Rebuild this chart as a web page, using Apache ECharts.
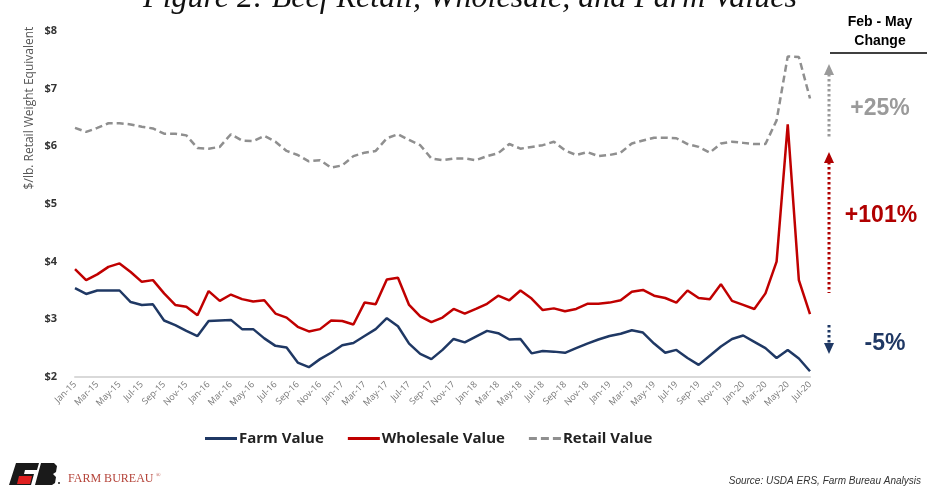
<!DOCTYPE html>
<html>
<head>
<meta charset="utf-8">
<style>html,body{margin:0;padding:0;background:#fff;}#c{width:927px;height:487px;}</style>
<script src="https://cdn.jsdelivr.net/npm/echarts@6/dist/echarts.min.js"></script>
</head>
<body>
<div id="c"></div>
<script>
var months = ["Jan-15","Feb-15","Mar-15","Apr-15","May-15","Jun-15","Jul-15","Aug-15","Sep-15","Oct-15","Nov-15","Dec-15",
"Jan-16","Feb-16","Mar-16","Apr-16","May-16","Jun-16","Jul-16","Aug-16","Sep-16","Oct-16","Nov-16","Dec-16",
"Jan-17","Feb-17","Mar-17","Apr-17","May-17","Jun-17","Jul-17","Aug-17","Sep-17","Oct-17","Nov-17","Dec-17",
"Jan-18","Feb-18","Mar-18","Apr-18","May-18","Jun-18","Jul-18","Aug-18","Sep-18","Oct-18","Nov-18","Dec-18",
"Jan-19","Feb-19","Mar-19","Apr-19","May-19","Jun-19","Jul-19","Aug-19","Sep-19","Oct-19","Nov-19","Dec-19",
"Jan-20","Feb-20","Mar-20","Apr-20","May-20","Jun-20","Jul-20"];

var farmValue = [3.54,3.44,3.50,3.50,3.50,3.30,3.25,3.26,2.98,2.90,
2.80,2.71,2.97,2.98,2.99,2.83,2.83,2.67,2.54,2.51,
2.25,2.17,2.31,2.42,2.55,2.59,2.71,2.83,3.02,2.88,
2.58,2.40,2.31,2.47,2.66,2.60,2.70,2.80,2.76,2.65,
2.66,2.41,2.45,2.44,2.42,2.50,2.58,2.65,2.71,2.75,
2.81,2.77,2.58,2.42,2.47,2.33,2.21,2.37,2.53,2.66,
2.72,2.61,2.50,2.33,2.47,2.32,2.10];

var wholesaleValue = [3.87,3.68,3.78,3.91,3.97,3.82,3.65,3.68,3.45,3.25,
3.22,3.07,3.49,3.32,3.43,3.35,3.31,3.33,3.10,3.03,
2.87,2.79,2.83,2.98,2.97,2.91,3.29,3.26,3.69,3.72,
3.25,3.05,2.95,3.03,3.18,3.10,3.18,3.27,3.41,3.33,
3.50,3.36,3.16,3.19,3.14,3.18,3.27,3.27,3.29,3.33,
3.48,3.51,3.41,3.37,3.29,3.50,3.37,3.35,3.61,3.32,
3.25,3.18,3.45,4.00,6.38,3.68,3.09];

var retailValue = [6.32,6.25,6.32,6.40,6.40,6.38,6.34,6.31,6.22,6.22,
6.19,5.97,5.96,5.99,6.21,6.10,6.09,6.18,6.08,5.92,
5.85,5.74,5.76,5.63,5.67,5.83,5.89,5.92,6.14,6.21,
6.11,6.02,5.79,5.76,5.79,5.79,5.76,5.83,5.88,6.04,
5.96,5.99,6.02,6.08,5.93,5.85,5.90,5.83,5.85,5.89,
6.05,6.10,6.15,6.15,6.14,6.04,5.99,5.89,6.05,6.08,
6.06,6.04,6.04,6.45,7.56,7.55,6.83];

var seriesNames = ["Farm Value","Wholesale Value","Retail Value"];
var changeLabels = ["+25%","+101%","-5%"];

var NAVY = "#1f3864", RED = "#c00000", GRAY = "#8f8f8f";
var chart = echarts.init(document.getElementById('c'), null, {renderer:'canvas'});

function arrowUp(x, yTop, yBottom, color) {
  return [
    {type:'line', shape:{x1:x, y1:yTop+10, x2:x, y2:yBottom}, style:{stroke:color, lineWidth:3, lineDash:[2.5,2.5]}},
    {type:'polygon', shape:{points:[[x, yTop],[x-5, yTop+11],[x+5, yTop+11]]}, style:{fill:color}}
  ];
}
function arrowDown(x, yTop, yBottom, color) {
  return [
    {type:'line', shape:{x1:x, y1:yTop, x2:x, y2:yBottom-10}, style:{stroke:color, lineWidth:3, lineDash:[2.5,2.5]}},
    {type:'polygon', shape:{points:[[x, yBottom],[x-5, yBottom-11],[x+5, yBottom-11]]}, style:{fill:color}}
  ];
}

var graphics = [
  {type:'text', x:470, y:-1, style:{text:'Figure 2: Beef Retail, Wholesale, and Farm Values', font:'italic 32px "Liberation Serif"', fill:'#111', align:'center', verticalAlign:'middle'}},
  {type:'text', x:30, y:108, rotation:Math.PI/2, style:{text:'$/lb. Retail Weight Equivalent', font:'12px "Open Sans"', fill:'#555', align:'center', verticalAlign:'middle'}},
  {type:'text', x:880, y:22, style:{text:'Feb - May', font:'bold 14px "Liberation Sans Narrow", "Liberation Sans"', fill:'#000', align:'center', verticalAlign:'middle'}},
  {type:'text', x:880, y:41, style:{text:'Change', font:'bold 14px "Liberation Sans Narrow", "Liberation Sans"', fill:'#000', align:'center', verticalAlign:'middle'}},
  {type:'line', shape:{x1:830, y1:53, x2:927, y2:53}, style:{stroke:'#000', lineWidth:1.5}},
  {type:'text', x:880, y:109, style:{text:changeLabels[0], font:'bold 23px "Liberation Sans"', fill:'#9a9a9a', align:'center', verticalAlign:'middle'}},
  {type:'text', x:881, y:216, style:{text:changeLabels[1], font:'bold 23px "Liberation Sans"', fill:'#b00000', align:'center', verticalAlign:'middle'}},
  {type:'text', x:885, y:344, style:{text:changeLabels[2], font:'bold 23px "Liberation Sans"', fill:NAVY, align:'center', verticalAlign:'middle'}},
  {type:'text', x:921, y:481, style:{text:'Source: USDA ERS, Farm Bureau Analysis', font:'italic 10px "Liberation Sans"', fill:'#333', align:'right', verticalAlign:'middle'}},
  // logo
  {type:'polygon', shape:{points:[[16,463],[39,463],[37,470],[25,470],[24,474],[34,474],[31,485],[9,485]]}, style:{fill:'#1a1a1a'}},
  {type:'polygon', shape:{points:[[19,476],[32,476],[30,484],[17,484]]}, style:{fill:'#e02020'}},
  {type:'polygon', shape:{points:[[41,463],[54,463],[57,466],[56,472],[53,474],[56,477],[55,483],[52,485],[35,485]]}, style:{fill:'#1a1a1a'}},
  {type:'circle', shape:{cx:59, cy:483, r:1}, style:{fill:'#1a1a1a'}},
  {type:'text', x:68, y:479, style:{text:'FARM BUREAU', font:'12px "Liberation Serif"', fill:'#b5443a', align:'left', verticalAlign:'middle'}},
  {type:'text', x:156, y:475, style:{text:'®', font:'6px "Liberation Serif"', fill:'#b5443a', align:'left', verticalAlign:'middle'}}
];
graphics = graphics.concat(arrowUp(829, 64, 137, '#9a9a9a'), arrowUp(829, 152, 293, '#b00000'), arrowDown(829, 325, 354, NAVY));

var solidIcon = 'path://M0,0h32v3h-32z';
var dashIcon = 'path://M0,0h8v3h-8z M12,0h8v3h-8z M24,0h8v3h-8z';

chart.setOption({
  animation:false,
  backgroundColor:'#fff',
  grid:{left:75, right:117, top:31, bottom:110, containLabel:false},
  legend:{
    left:200, top:426, itemWidth:32, itemHeight:3, itemGap:24,
    textStyle:{fontFamily:'"Open Sans"', fontWeight:'bold', fontSize:15, color:'#222', padding:[0,0,0,-3]},
    data:[
      {name:seriesNames[0], icon:solidIcon},
      {name:seriesNames[1], icon:solidIcon},
      {name:seriesNames[2], icon:dashIcon}
    ]
  },
  xAxis:{
    type:'category', data:months, boundaryGap:false,
    axisLine:{show:true, lineStyle:{color:'#d9d9d9', width:2}},
    axisTick:{show:false},
    axisLabel:{interval:1, rotate:45, fontSize:9, color:'#777', fontFamily:'"Open Sans"', margin:6},
    splitLine:{show:false}
  },
  yAxis:{
    type:'value', min:2, max:8, interval:1,
    axisLine:{show:false}, axisTick:{show:false},
    splitLine:{show:false},
    axisLabel:{formatter:function(v){return '$'+v;}, fontSize:11, fontWeight:'bold', color:'#333', fontFamily:'"Open Sans"', margin:18}
  },
  series:[
    {name:seriesNames[0], type:'line', data:farmValue, symbol:'none', lineStyle:{color:NAVY, width:2.5}, itemStyle:{color:NAVY}},
    {name:seriesNames[1], type:'line', data:wholesaleValue, symbol:'none', lineStyle:{color:RED, width:2.5}, itemStyle:{color:RED}},
    {name:seriesNames[2], type:'line', data:retailValue, symbol:'none', lineStyle:{color:GRAY, width:2.5, type:[7,4]}, itemStyle:{color:GRAY}}
  ],
  graphic:graphics
});
</script>
</body>
</html>
